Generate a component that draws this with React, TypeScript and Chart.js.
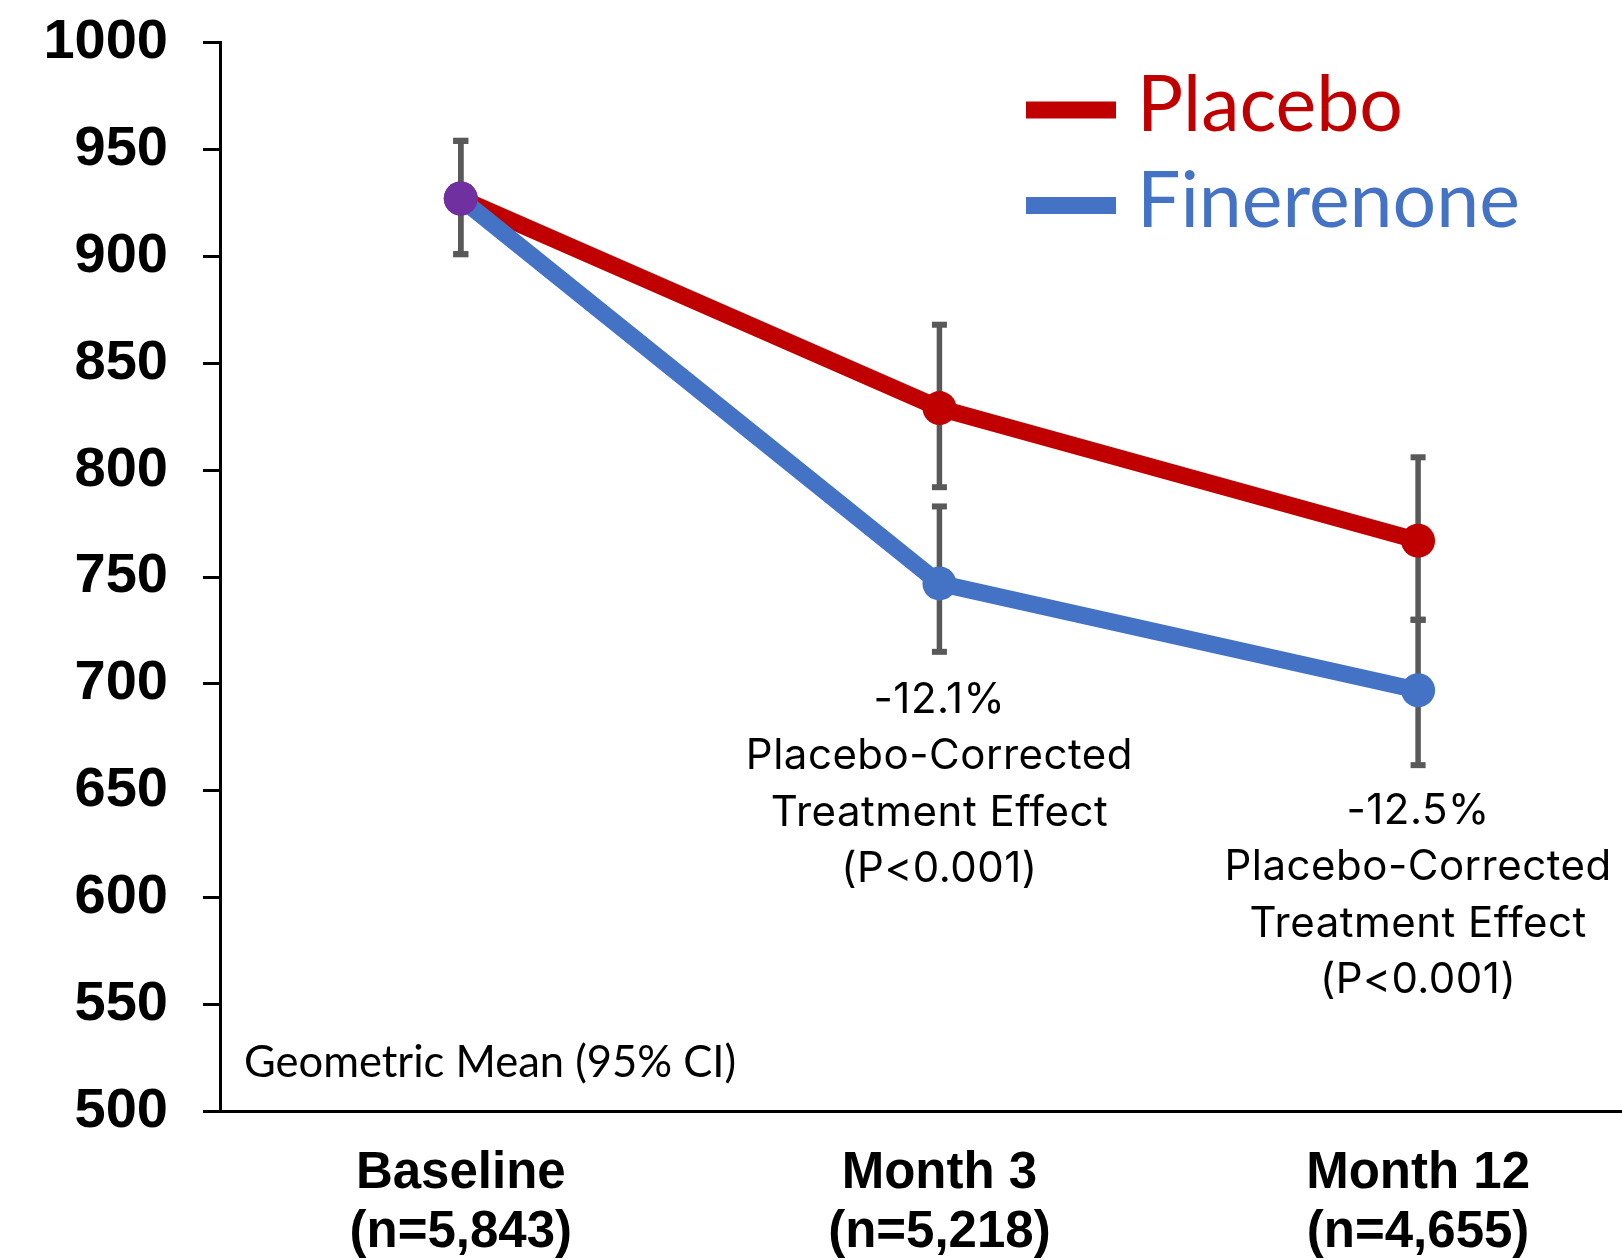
import React, { useEffect, useRef } from "react";
import { Chart, registerables } from "chart.js";

Chart.register(...registerables);

// ---- Data ----
const categories: string[][] = [
  ["Baseline", "(n=5,843)"],
  ["Month 3", "(n=5,218)"],
  ["Month 12", "(n=4,655)"],
];
const xPositions = [0, 1, 2];

const placeboMean = [927, 829, 767];
const placeboLow = [901, 792, 730];
const placeboHigh = [954, 868, 806];

const finerenoneMean = [927, 747, 697];
const finerenoneLow = [901, 715, 662];
const finerenoneHigh = [954, 783, 730];

const yMin = 500;
const yMax = 1000;
const yStep = 50;

const annotationX = [1, 2];
const annotationY = [686.6, 634.6];
const annotationLines: string[][] = [
  ["-12.1%", "Placebo-Corrected", "Treatment Effect", "(P<0.001)"],
  ["-12.5%", "Placebo-Corrected", "Treatment Effect", "(P<0.001)"],
];

const noteText = "Geometric Mean (95% CI)";

const RED = "#C00000";
const BLUE = "#4472C4";
const PURPLE = "#7030A0";
const GREY = "#595959";

const errorBarPlugin = {
  id: "errorBars",
  beforeDatasetsDraw(chart: any) {
    const ctx = chart.ctx;
    const xs = chart.scales.x;
    const ys = chart.scales.y;
    ctx.save();
    chart.data.datasets.forEach((ds: any) => {
      const lows: number[] = ds.errLow;
      const highs: number[] = ds.errHigh;
      ds.data.forEach((pt: any, i: number) => {
        const px = xs.getPixelForValue(pt.x);
        const yl = ys.getPixelForValue(lows[i]);
        const yh = ys.getPixelForValue(highs[i]);
        ctx.strokeStyle = GREY;
        ctx.lineWidth = 5.5;
        ctx.beginPath();
        ctx.moveTo(px, yl);
        ctx.lineTo(px, yh);
        ctx.stroke();
        ctx.fillStyle = GREY;
        ctx.fillRect(px - 7.5, yl - 3, 15, 6);
        ctx.fillRect(px - 7.5, yh - 3, 15, 6);
      });
    });
    ctx.restore();
  },
};

const overlayPlugin = {
  id: "overlay",
  afterDraw(chart: any) {
    const ctx = chart.ctx;
    const xs = chart.scales.x;
    const ys = chart.scales.y;
    const area = chart.chartArea;
    ctx.save();

    // Legend (Placebo first, Finerenone second)
    const legendItems = [
      { label: "Placebo", color: RED },
      { label: "Finerenone", color: BLUE },
    ];
    legendItems.forEach((it, i) => {
      const cy = 110 + i * 95.5;
      ctx.fillStyle = it.color;
      ctx.fillRect(1026, cy - 8.5, 90, 17);
      ctx.font = "77px Lato";
      ctx.textAlign = "left";
      ctx.textBaseline = "alphabetic";
      ctx.fillText(it.label, 1137, cy + 21);
    });

    // Annotations
    ctx.fillStyle = "#000";
    ctx.font = "42px Inter";
    (ctx as any).letterSpacing = "0.5px";
    ctx.textAlign = "center";
    ctx.textBaseline = "alphabetic";
    annotationLines.forEach((lines, k) => {
      const px = xs.getPixelForValue(annotationX[k]);
      const py = ys.getPixelForValue(annotationY[k]);
      lines.forEach((ln, j) => {
        ctx.fillText(ln, px, py + j * 56.5);
      });
    });
    (ctx as any).letterSpacing = "0px";

    // Note text
    ctx.font = "43.5px Lato";
    ctx.textAlign = "left";
    ctx.fillText(noteText, area.left + 24, area.bottom - 35);
    ctx.restore();
  },
};

export default function App() {
  const canvasRef = useRef<HTMLCanvasElement | null>(null);

  useEffect(() => {
    if (!canvasRef.current) return;
    document.body.style.margin = "0";
    document.body.style.overflow = "hidden";
    const chart = new Chart(canvasRef.current, {
      type: "line",
      data: {
        datasets: [
          {
            label: "Finerenone",
            data: xPositions.map((x, i) => ({ x, y: finerenoneMean[i] })),
            borderColor: BLUE,
            backgroundColor: BLUE,
            borderWidth: 17,
            pointRadius: 17,
            pointBorderWidth: 0,
            pointBackgroundColor: [PURPLE, BLUE, BLUE],
            pointHoverRadius: 17,
            tension: 0,
            clip: false,
            errLow: finerenoneLow,
            errHigh: finerenoneHigh,
          } as any,
          {
            label: "Placebo",
            data: xPositions.map((x, i) => ({ x, y: placeboMean[i] })),
            borderColor: RED,
            backgroundColor: RED,
            borderWidth: 17,
            pointRadius: 17,
            pointBorderWidth: 0,
            pointBackgroundColor: [PURPLE, RED, RED],
            pointHoverRadius: 17,
            tension: 0,
            clip: false,
            errLow: placeboLow,
            errHigh: placeboHigh,
          } as any,
        ],
      },
      options: {
        animation: false,
        responsive: false,
        devicePixelRatio: 1,
        layout: { autoPadding: false, padding: { top: 42.5, left: 0, right: 0, bottom: 0 } },
        plugins: {
          legend: { display: false },
          tooltip: { enabled: false },
        },
        scales: {
          x: {
            type: "linear",
            min: -0.503,
            max: 2.426,
            afterBuildTicks(scale: any) {
              scale.ticks = xPositions.map((v) => ({ value: v }));
            },
            afterFit(scale: any) {
              scale.height = 148.5;
              scale.paddingLeft = 0;
              scale.paddingRight = 0;
              scale.paddingTop = 0;
              scale.paddingBottom = 0;
            },
            grid: { display: false, drawTicks: false },
            border: { display: true, color: "#000", width: 3 },
            ticks: {
              autoSkip: false,
              maxRotation: 0,
              padding: 33,
              color: "#000",
              font: { family: "'Liberation Sans', Arial, sans-serif", size: 51, weight: "bold", lineHeight: "59px" },
              callback: (v: any) => categories[Math.round(Number(v))] ?? "",
            },
          },
          y: {
            type: "linear",
            min: yMin,
            max: yMax,
            afterFit(scale: any) {
              scale.width = 220;
              scale.paddingTop = 0;
              scale.paddingBottom = 0;
              scale.paddingLeft = 0;
              scale.paddingRight = 0;
            },
            grid: {
              display: true,
              drawOnChartArea: false,
              drawTicks: true,
              tickLength: 17,
              color: "#000",
              lineWidth: 3,
            },
            border: { display: true, color: "#000", width: 3 },
            ticks: {
              stepSize: yStep,
              padding: 35,
              color: "#000",
              font: { family: "'Liberation Sans', Arial, sans-serif", size: 56, weight: "bold" },
              callback: (v: any) => String(v),
            },
          },
        },
      } as any,
      plugins: [errorBarPlugin, overlayPlugin],
    });
    return () => chart.destroy();
  }, []);

  return (
    <div style={{ position: "absolute", left: 0, top: 0, width: 1622, height: 1260, background: "#fff", overflow: "hidden" }}>
      <canvas ref={canvasRef} width={1622} height={1260} style={{ display: "block", width: 1622, height: 1260 }} />
    </div>
  );
}
